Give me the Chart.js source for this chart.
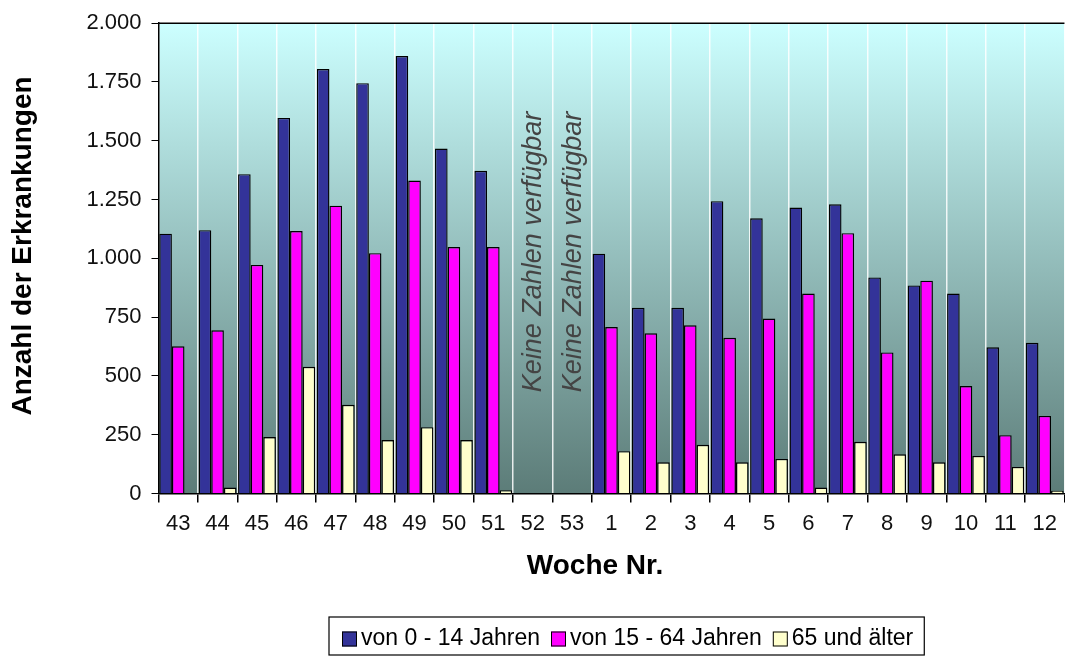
<!DOCTYPE html>
<html lang="de">
<head>
<meta charset="UTF-8">
<title>Anzahl der Erkrankungen je Woche</title>
<script src="https://cdn.jsdelivr.net/npm/chart.js"></script>
<style>
  body { margin: 0; background: #fff; }
  #chart { display: block; }
</style>
</head>
<body>
<canvas id="chart" width="1065" height="657"></canvas>
<script>
// Kalenderwochen (Saison)
const weeks = ['43', '44', '45', '46', '47', '48', '49', '50', '51', '52', '53',
               '1', '2', '3', '4', '5', '6', '7', '8', '9', '10', '11', '12'];

// Erkrankungen je Altersgruppe (52 und 53: keine Zahlen)
const age0to14 = [1105, 1120, 1358, 1597, 1805, 1745, 1860, 1467, 1372, null, null,
                  1020, 790, 790, 1243, 1170, 1216, 1230, 919, 885, 850, 622, 641];
const age15to64 = [626, 694, 972, 1116, 1224, 1022, 1331, 1048, 1048, null, null,
                   708, 681, 715, 662, 744, 850, 1107, 600, 905, 457, 248, 330];
const age65plus = [0, 25, 240, 539, 377, 227, 282, 227, 14, null, null,
                   180, 133, 207, 133, 147, 25, 220, 167, 133, 160, 113, 12];

const seriesNames = ['von 0 - 14 Jahren', 'von 15 - 64 Jahren', '65 und älter'];
const seriesColors = ['#333399', '#ff00ff', '#ffffcc'];

const yMax = 2000;
const yStep = 250;

// Hinweise für Wochen ohne Daten
const noteWeeks = ['52', '53'];
const noteText = 'Keine Zahlen verfügbar';

const FONT = "'Liberation Sans', Arial, sans-serif";

function germanThousands(v) {
  return String(v).replace(/\B(?=(\d{3})+(?!\d))/g, '.');
}

// background, frame, titles, notes and the boxed legend
const decor = {
  id: 'decor',
  beforeDraw(chart) {
    const { ctx, chartArea: a } = chart;
    const g = ctx.createLinearGradient(0, a.top, 0, a.bottom);
    g.addColorStop(0, '#ccffff');
    g.addColorStop(1, '#5c7c78');
    ctx.save();
    ctx.fillStyle = g;
    ctx.fillRect(a.left, a.top, a.right - a.left, a.bottom - a.top);
    ctx.restore();
  },
  afterDraw(chart) {
    const { ctx, chartArea: a } = chart;
    const x = chart.scales.x;
    ctx.save();

    // top frame line
    ctx.strokeStyle = '#000';
    ctx.lineWidth = 1.5;
    ctx.beginPath();
    ctx.moveTo(a.left, a.top);
    ctx.lineTo(a.right, a.top);
    ctx.stroke();

    // notes in the empty weeks
    ctx.fillStyle = '#444';
    ctx.font = 'italic 27px ' + FONT;
    ctx.textAlign = 'center';
    ctx.textBaseline = 'middle';
    noteWeeks.forEach(w => {
      const px = x.getPixelForValue(weeks.indexOf(w));
      ctx.save();
      ctx.translate(px + 1, 252);
      ctx.rotate(-Math.PI / 2);
      ctx.fillText(noteText, 0, 0);
      ctx.restore();
    });

    // axis titles
    ctx.fillStyle = '#000';
    ctx.font = 'bold 28px ' + FONT;
    ctx.fillText('Woche Nr.', 595, 566);
    ctx.save();
    ctx.translate(23, 246);
    ctx.rotate(-Math.PI / 2);
    ctx.fillText('Anzahl der Erkrankungen', 0, 0);
    ctx.restore();

    // legend box
    ctx.font = '23px ' + FONT;
    ctx.textAlign = 'left';
    const boxLeft = 329, boxTop = 617, boxH = 38;
    const sq = 15, sqGap = 4, itemGap = 11, padL = 13, padR = 11;
    let cx = boxLeft + padL;
    const cy = boxTop + boxH / 2 + 3;
    const items = chart.data.datasets.map(ds => ({ label: ds.label, color: ds.backgroundColor }));
    let total = padL + padR;
    items.forEach((it, i) => {
      total += sq + sqGap + ctx.measureText(it.label).width + (i < items.length - 1 ? itemGap : 0);
    });
    ctx.fillStyle = '#fff';
    ctx.fillRect(boxLeft, boxTop, total, boxH);
    ctx.strokeStyle = '#000';
    ctx.lineWidth = 1.2;
    ctx.strokeRect(boxLeft, boxTop, total, boxH);
    items.forEach(it => {
      ctx.fillStyle = it.color;
      ctx.fillRect(cx, cy - sq / 2, sq, sq);
      ctx.lineWidth = 1;
      ctx.strokeStyle = '#000';
      ctx.strokeRect(cx + 0.5, cy - sq / 2 + 0.5, sq - 1, sq - 1);
      cx += sq + sqGap;
      ctx.fillStyle = '#000';
      ctx.fillText(it.label, cx, cy);
      cx += ctx.measureText(it.label).width + itemGap;
    });

    ctx.restore();
  }
};

const ctx = document.getElementById('chart').getContext('2d');
new Chart(ctx, {
  type: 'bar',
  data: {
    labels: weeks,
    datasets: [age0to14, age15to64, age65plus].map((values, i) => ({
      label: seriesNames[i],
      data: values,
      backgroundColor: seriesColors[i],
      borderColor: '#000',
      borderWidth: 1.4,
      categoryPercentage: 0.96,
      barPercentage: 1.0
    }))
  },
  options: {
    responsive: false,
    animation: false,
    layout: { padding: { top: 19.5, right: 0, bottom: 103.5, left: 0 } },
    plugins: {
      legend: { display: false },
      tooltip: { enabled: false }
    },
    scales: {
      x: {
        afterFit(scale) { scale.height = 60; },
        grid: {
          color: 'rgba(255,255,255,0.85)',
          lineWidth: 1.5,
          tickColor: '#000',
          tickLength: 9,
          offset: true
        },
        border: { color: '#000', width: 1.5 },
        ticks: {
          color: '#111',
          padding: 8,
          maxRotation: 0,
          autoSkip: false,
          font: { family: FONT, size: 22 }
        }
      },
      y: {
        min: 0,
        max: yMax,
        afterFit(scale) { scale.width = 158.5; },
        grid: { drawOnChartArea: false, tickLength: 7, color: '#000' },
        border: { color: '#000', width: 1.5 },
        ticks: {
          stepSize: yStep,
          color: '#111',
          padding: 10,
          font: { family: FONT, size: 22 },
          callback: v => germanThousands(v)
        }
      }
    }
  },
  plugins: [decor]
});
</script>
</body>
</html>
